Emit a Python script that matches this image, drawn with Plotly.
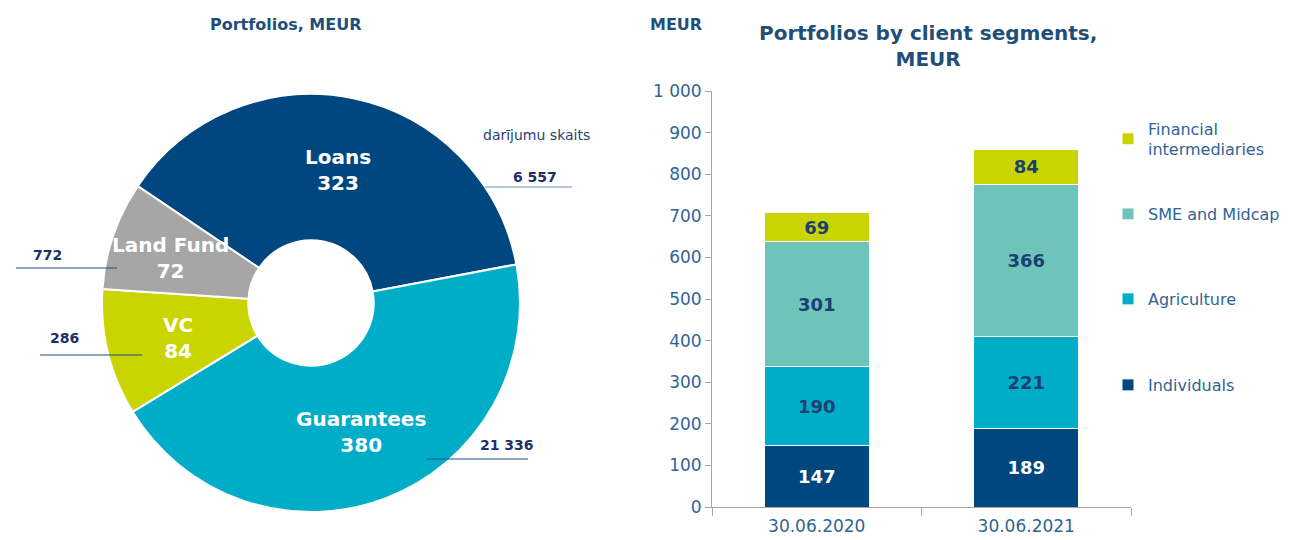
import plotly.graph_objects as go

# ---------------- data ----------------
pie_labels = ["Loans", "Guarantees", "VC", "Land Fund"]
pie_values = [323, 380, 84, 72]
pie_colors = ["#00477f", "#00adc9", "#c9d400", "#a6a6a6"]
deal_counts = [6557, 21336, 286, 772]

bar_categories = ["30.06.2020", "30.06.2021"]
seg_names = ["Individuals", "Agriculture", "SME and Midcap", "Financial<br>intermediaries"]
seg_values = {
    "Individuals": [147, 189],
    "Agriculture": [190, 221],
    "SME and Midcap": [301, 366],
    "Financial<br>intermediaries": [69, 84],
}
seg_colors = ["#00477f", "#00adc9", "#6fc4b9", "#c9d400"]
seg_text_colors = ["white", "#1d3f73", "#1d3f73", "#1d3f73"]

y_ticks = [0, 100, 200, 300, 400, 500, 600, 700, 800, 900, 1000]

FONT = "DejaVu Sans"
W, H = 1292, 540
OFF = 8  # page body margin offset
NAVY = "#1f4e79"
AXIS_TXT = "#2f6496"


def px(x):
    return (x - OFF) / W


def py(y):
    return 1 - (y - OFF) / H


def fmt(n):
    return f"{n:,}".replace(",", " ")


def note(x, y, text, size, color, xanchor="center"):
    fig.add_annotation(x=px(x), y=py(y), xref="paper", yref="paper",
                       xanchor=xanchor, yanchor="middle",
                       text=text, showarrow=False, align="center",
                       font=dict(family=FONT, size=size, color=color))


fig = go.Figure()

# ---------------- donut ----------------
cx, cy, r = 311, 303, 209
fig.add_trace(go.Pie(
    labels=pie_labels, values=pie_values,
    marker=dict(colors=pie_colors, line=dict(color="white", width=2)),
    hole=0.30, sort=False, direction="clockwise", rotation=-56,
    textinfo="none", hoverinfo="label+value", showlegend=False,
    domain=dict(x=[px(cx - r), px(cx + r)], y=[py(cy + r), py(cy - r)]),
))

# slice labels
label_pos = [(338, 170), (361, 432), (178, 338), (170, 258)]
for lab, val, (x, y) in zip(pie_labels, pie_values, label_pos):
    note(x, y, f"<b>{lab}<br>{val}</b>", 20, "white")

# deal-count leaders
leaders = [  # (x0, x1, y_line, text_x, text_y)
    (485, 572, 187, 535, 177),
    (427, 528, 459, 507, 445),
    (40, 142, 355, 64, 338),
    (16, 117, 268, 47, 255),
]
line_cols = ["#6d90b8", "#1f4e8c", "#1f4e8c", "#1f4e8c"]
for n, (x0, x1, yl, tx, ty), lc in zip(deal_counts, leaders, line_cols):
    fig.add_shape(type="line", xref="paper", yref="paper",
                  x0=px(x0), x1=px(x1), y0=py(yl), y1=py(yl),
                  line=dict(color=lc, width=1.2))
    note(tx, ty, f"<b>{fmt(n)}</b>", 14, "#1b2f6b")

note(536, 135, "darījumu skaits", 14, "#2a3f6e")
note(286, 25, "<b>Portfolios, MEUR</b>", 16, NAVY)

# ---------------- stacked bars ----------------
legend_ids = ["legend4", "legend3", "legend2", "legend"]
legend_y = [385, 299, 214, 139]
for i, name in enumerate(seg_names):
    vals = seg_values[name]
    fig.add_trace(go.Bar(
        x=bar_categories, y=vals, name=name,
        marker=dict(color=seg_colors[i], line=dict(color="white", width=1)),
        text=[f"<b>{v}</b>" for v in vals], textposition="inside",
        insidetextanchor="middle",
        textfont=dict(family=FONT, size=18, color=seg_text_colors[i]),
        legend=legend_ids[i], xaxis="x", yaxis="y",
    ))

fig.update_layout(
    width=W, height=H,
    margin=dict(l=0, r=0, t=0, b=0, pad=0, autoexpand=False),
    paper_bgcolor="white", plot_bgcolor="white",
    barmode="stack", bargap=0.5,
    font=dict(family=FONT, color=AXIS_TXT),
    xaxis=dict(domain=[px(712), px(1131)], anchor="y",
               showline=True, linecolor="#a6a6a6", linewidth=1,
               ticks="outside", tickson="boundaries", ticklen=8,
               tickcolor="#a6a6a6", automargin=False, ticklabelstandoff=4,
               tickfont=dict(family=FONT, size=17, color=AXIS_TXT),
               showgrid=False),
    yaxis=dict(domain=[py(507), py(91)], range=[0, 1000], anchor="x",
               tickvals=y_ticks, ticktext=[fmt(v) for v in y_ticks],
               showline=True, linecolor="#a6a6a6", linewidth=1,
               ticks="outside", ticklen=6, tickcolor="#a6a6a6",
               automargin=False,
               tickfont=dict(family=FONT, size=17, color=AXIS_TXT),
               showgrid=False, zeroline=False),
)

for lid, ly in zip(legend_ids, legend_y):
    fig.update_layout({lid: dict(
        x=px(1108), y=py(ly), xanchor="left", yanchor="middle",
        font=dict(family=FONT, size=16, color=AXIS_TXT),
        itemwidth=30, bgcolor="rgba(0,0,0,0)")})

note(676, 25, "<b>MEUR</b>", 16, NAVY)
note(928, 46, "<b>Portfolios by client segments,<br>MEUR</b>", 20, NAVY)

fig.write_html("out.html")
